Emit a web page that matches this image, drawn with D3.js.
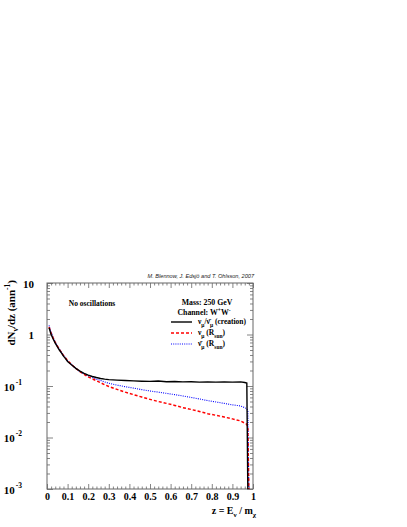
<!DOCTYPE html>
<html>
<head>
<meta charset="utf-8">
<script src="https://cdn.jsdelivr.net/npm/d3@7"></script>
<style>
  body { margin: 0; background: #fff; }
  svg { display: block; }
  .serif { font-family: "Liberation Serif", "DejaVu Serif", serif; font-weight: bold; }
</style>
</head>
<body>
<div id="wrapper"></div>
<script>
// values (dN/dz per annihilation)
const zVals = [0.01, 0.02, 0.03, 0.04, 0.05, 0.06, 0.07, 0.08, 0.09, 0.10, 0.12, 0.14, 0.16, 0.18, 0.20,
  0.22, 0.24, 0.26, 0.28, 0.30, 0.34, 0.38, 0.42, 0.46, 0.50, 0.54, 0.58, 0.62, 0.66, 0.70, 0.74,
  0.78, 0.82, 0.86, 0.90, 0.94, 0.96, 0.97, 0.975, 0.98, 0.985];
const creation = [1.35, 1.0, 0.82, 0.68, 0.58, 0.50, 0.44, 0.38, 0.34, 0.30, 0.255, 0.22, 0.195, 0.176, 0.163,
  0.153, 0.146, 0.140, 0.136, 0.133, 0.130, 0.128, 0.126, 0.124, 0.123, 0.125, 0.121, 0.122, 0.120, 0.121, 0.119,
  0.120, 0.119, 0.120, 0.119, 0.120, 0.117, 0.114, 0.0008, 0.0008, 0.0008];
const numuSun = [1.4, 1.05, 0.85, 0.70, 0.60, 0.51, 0.45, 0.39, 0.35, 0.31, 0.26, 0.22, 0.19, 0.168, 0.150,
  0.138, 0.126, 0.116, 0.106, 0.098, 0.086, 0.076, 0.068, 0.061, 0.055, 0.050, 0.046, 0.042, 0.038, 0.035, 0.032,
  0.029, 0.027, 0.025, 0.023, 0.021, 0.019, 0.018, 0.016, 0.0008, 0.0008];
const numubarSun = [1.5, 1.1, 0.88, 0.72, 0.61, 0.52, 0.45, 0.40, 0.35, 0.31, 0.26, 0.22, 0.19, 0.172, 0.157,
  0.146, 0.136, 0.128, 0.120, 0.113, 0.104, 0.097, 0.091, 0.085, 0.080, 0.076, 0.072, 0.068, 0.064, 0.060, 0.056,
  0.052, 0.049, 0.046, 0.043, 0.041, 0.038, 0.036, 0.033, 0.0008, 0.0008];

const xTicks = [0, 0.1, 0.2, 0.3, 0.4, 0.5, 0.6, 0.7, 0.8, 0.9, 1];
const xTickLabels = ["0", "0.1", "0.2", "0.3", "0.4", "0.5", "0.6", "0.7", "0.8", "0.9", "1"];
const yTicks = [0.001, 0.01, 0.1, 1, 10];
const yTickBase = ["10", "10", "10", "1", "10"];
const yTickExp = ["-3", "-2", "-1", "", ""];

const W = 407, H = 527;
const pLeft = 47, pRight = 253, pTop = 283, pBottom = 489;

var svg = d3.select("#wrapper").append("svg").attr("width", W).attr("height", H);

var x = d3.scaleLinear().domain([0, 1]).range([pLeft, pRight]);
var y = d3.scaleLog().domain([0.001, 10]).range([pBottom, pTop]);

svg.append("clipPath").attr("id", "clip").append("rect")
  .attr("x", pLeft).attr("y", pTop).attr("width", pRight - pLeft).attr("height", pBottom - pTop);

// minor ticks
var xMinor = d3.range(0, 51).map(i => i * 0.02).filter(v => Math.round(v * 50) % 5 !== 0);
var yMinor = [];
[0.001, 0.01, 0.1, 1].forEach(d => { for (let k = 2; k < 10; k++) yMinor.push(d * k); });

function styleAxis(g) {
  g.select(".domain").remove();
  g.selectAll(".tick line").attr("stroke", "#666").attr("stroke-width", 0.8);
}

// bottom / top axes
svg.append("g").attr("transform", "translate(0," + pBottom + ")")
  .call(d3.axisBottom(x).tickValues(xMinor).tickSize(-2.5).tickFormat("")).call(styleAxis);
svg.append("g").attr("transform", "translate(0," + pTop + ")")
  .call(d3.axisTop(x).tickValues(xMinor).tickSize(-2.5).tickFormat("")).call(styleAxis);
svg.append("g").attr("transform", "translate(0," + pTop + ")")
  .call(d3.axisTop(x).tickValues(xTicks).tickSize(-5).tickFormat("")).call(styleAxis);
var xAx = svg.append("g").attr("transform", "translate(0," + pBottom + ")")
  .call(d3.axisBottom(x).tickValues(xTicks).tickSize(-5).tickPadding(4)
    .tickFormat((d, i) => xTickLabels[i]))
  .call(styleAxis);
xAx.selectAll(".tick text").attr("class", "serif").attr("font-size", 10).attr("fill", "#000");

// left / right axes
svg.append("g").attr("transform", "translate(" + pLeft + ",0)")
  .call(d3.axisLeft(y).tickValues(yMinor).tickSize(-3).tickFormat("")).call(styleAxis);
svg.append("g").attr("transform", "translate(" + pRight + ",0)")
  .call(d3.axisRight(y).tickValues(yMinor).tickSize(-3).tickFormat("")).call(styleAxis);
svg.append("g").attr("transform", "translate(" + pRight + ",0)")
  .call(d3.axisRight(y).tickValues(yTicks).tickSize(-6).tickFormat("")).call(styleAxis);
var yAx = svg.append("g").attr("transform", "translate(" + pLeft + ",0)")
  .call(d3.axisLeft(y).tickValues(yTicks).tickSize(-6).tickFormat("")).call(styleAxis);
yAx.selectAll(".tick text").remove();
yAx.selectAll(".tick").each(function(d, i) {
  var t = d3.select(this).append("text").attr("class", "serif").attr("fill", "#000")
    .attr("font-size", 11).attr("y", 4);
  if (yTickExp[i]) {
    t.append("tspan").attr("x", -25).text(yTickBase[i]);
    t.append("tspan").attr("dy", -6).attr("font-size", 7.5).attr("dx", 1).text(yTickExp[i]);
  } else {
    t.attr("x", -13).attr("text-anchor", "end").text(yTickBase[i]);
  }
});

// frame
svg.append("rect").attr("x", pLeft).attr("y", pTop).attr("width", pRight - pLeft).attr("height", pBottom - pTop)
  .attr("fill", "none").attr("stroke", "#666").attr("stroke-width", 1);

// curves
var line = d3.line().x((d, i) => x(zVals[i])).y(d => y(d));
var plot = svg.append("g").attr("clip-path", "url(#clip)");
plot.append("path").datum(numubarSun).attr("d", line).attr("fill", "none")
  .attr("stroke", "#0000ff").attr("stroke-width", 1.1).attr("stroke-dasharray", "1,1.2");
plot.append("path").datum(numuSun).attr("d", line).attr("fill", "none")
  .attr("stroke", "#ff0000").attr("stroke-width", 1.5).attr("stroke-dasharray", "3,2");
plot.append("path").datum(creation).attr("d", line).attr("fill", "none")
  .attr("stroke", "#000").attr("stroke-width", 1.4);

// axis titles
var xt = svg.append("text").attr("class", "serif").attr("font-size", 10)
  .attr("x", 256).attr("y", 514).attr("text-anchor", "end");
xt.append("tspan").text("z = E");
xt.append("tspan").attr("dy", 2.5).attr("font-size", 7).text("ν");
xt.append("tspan").attr("dy", -2.5).text(" / m");
xt.append("tspan").attr("dy", 2.5).attr("font-size", 7).text("χ");

var yt = svg.append("text").attr("class", "serif").attr("font-size", 11)
  .attr("transform", "translate(15,280) rotate(-90)").attr("text-anchor", "end");
yt.append("tspan").text("dN");
yt.append("tspan").attr("dy", 3).attr("font-size", 7.5).text("ν");
yt.append("tspan").attr("dy", -3).text("/dz (ann");
yt.append("tspan").attr("dy", -5).attr("font-size", 7.5).text("-1");
yt.append("tspan").attr("dy", 5).text(")");

// credit
svg.append("text").attr("x", 254).attr("y", 278).attr("text-anchor", "end")
  .attr("font-family", "Liberation Sans, Arial, sans-serif").attr("font-style", "italic")
  .attr("font-size", 5.6).attr("fill", "#222")
  .text("M. Blennow, J. Edsjö and T. Ohlsson, 2007");

svg.append("text").attr("class", "serif").attr("font-size", 7.5).attr("x", 92).attr("y", 306)
  .attr("text-anchor", "middle").text("No oscillations");

// legend
svg.append("text").attr("class", "serif").attr("font-size", 7.8).attr("x", 207).attr("y", 305)
  .attr("text-anchor", "middle").text("Mass: 250 GeV");
var ch = svg.append("text").attr("class", "serif").attr("font-size", 7.8).attr("x", 204).attr("y", 315)
  .attr("text-anchor", "middle");
ch.append("tspan").text("Channel: W");
ch.append("tspan").attr("dy", -3).attr("font-size", 5.5).text("+");
ch.append("tspan").attr("dy", 3).text("W");
ch.append("tspan").attr("dy", -3).attr("font-size", 5.5).text("-");

var legend = [
  { stroke: "#000", width: 1.4, dash: null, label: [["ν", 0], ["μ", 1], ["/ν̄", 0], ["μ", 1], [" (creation)", 0]] },
  { stroke: "#ff0000", width: 1.3, dash: "3,2", label: [["ν", 0], ["μ", 1], [" (R", 0], ["sun", 1], [")", 0]] },
  { stroke: "#0000ff", width: 1.1, dash: "1,1.2", label: [["ν̄", 0], ["μ", 1], [" (R", 0], ["sun", 1], [")", 0]] }
];
var rowY = [324, 335, 346];
legend.forEach(function(e, i) {
  svg.append("line").attr("x1", 171).attr("x2", 192).attr("y1", rowY[i] - 2).attr("y2", rowY[i] - 2)
    .attr("stroke", e.stroke).attr("stroke-width", e.width).attr("stroke-dasharray", e.dash);
  var t = svg.append("text").attr("class", "serif").attr("font-size", 7.5).attr("x", 198).attr("y", rowY[i]);
  var prev = 0;
  e.label.forEach(function(p) {
    var sub = p[1];
    t.append("tspan").attr("dy", (sub - prev) * 2.5).attr("font-size", sub ? 5.5 : 7.5).text(p[0]);
    prev = sub;
  });
});
</script>
</body>
</html>
